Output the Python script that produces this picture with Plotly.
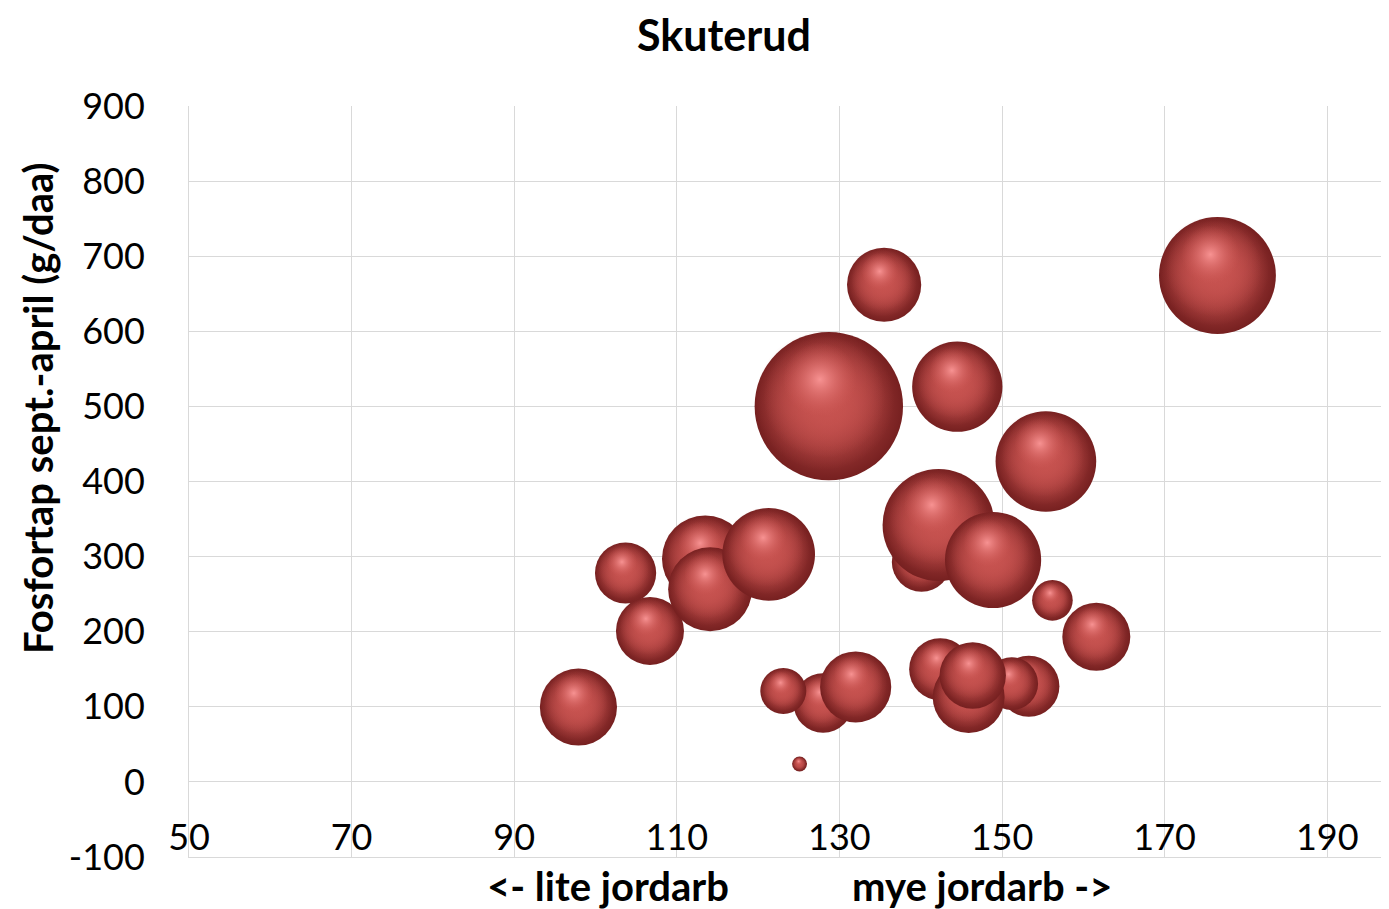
import plotly.graph_objects as go
import numpy as np

# ---- data, listed in drawing order (back to front) ----
x_vals = [97.9, 103.7, 106.7, 113.5, 114.1, 121.3, 128.0, 123.1, 132.0, 125.1,
          128.7, 135.5, 144.5, 155.4, 140.1, 142.2, 148.9, 156.2, 161.6,
          153.3, 151.2, 142.4, 145.9, 146.4, 176.5]
y_vals = [99.7, 278.2, 201.0, 297.2, 256.5, 303.0, 105.0, 121.0, 126.4, 23.8,
          500.3, 662.0, 526.2, 426.6, 292.8, 342.0, 295.5, 241.8, 193.3,
          127.4, 130.8, 150.0, 113.0, 141.7, 674.3]
bubble_sizes = [27, 17, 21, 34, 32, 39, 16, 9.6, 23, 1,
                100, 25, 37, 46, 16, 57, 42, 7.5, 21,
                17, 12.6, 17.5, 23.5, 20, 62]

x_ticks = [50, 70, 90, 110, 130, 150, 170, 190]
y_ticks = [-100, 0, 100, 200, 300, 400, 500, 600, 700, 800, 900]

title_text = "Skuterud"
y_title = "Fosfortap sept.-april (g/daa)"
x_left_label = "<- lite jordarb"
x_right_label = "mye jordarb ->"

# ---- layout geometry (page has an 8px body margin) ----
OFF = 8
W, H = 1389 - OFF, 909 - OFF
ML, MR, MT, MB = 189 - OFF, 0, 106 - OFF, 52
PW, PH = W - ML - MR, H - MT - MB
X_MIN = 50
PX_PER_X = 8.13
X_MAX = X_MIN + PW / PX_PER_X
Y_MIN, Y_MAX = -100, 900
PX_PER_Y = PH / (Y_MAX - Y_MIN)
R_MAX = 74.2  # radius in px of the largest bubble


def px_x(p):  # screen px -> paper fraction (x)
    return (p - OFF - ML) / PW


def px_y(p):  # screen px -> paper fraction (y)
    return (OFF + MT + PH - p) / PH


FONT = "Lato, 'Open Sans', sans-serif"

fig = go.Figure()

smax = max(bubble_sizes)
for xv, yv, sv in zip(x_vals, y_vals, bubble_sizes):
    r = R_MAX * np.sqrt(sv / smax)
    d = 2 * r
    # base sphere: dark rim, red centre (gradient.color = centre colour)
    fig.add_trace(go.Scatter(
        x=[xv], y=[yv], mode="markers", hoverinfo="skip", showlegend=False,
        marker=dict(size=d, sizemode="diameter", color="#762020",
                    gradient=dict(type="radial", color="#c8524f"),
                    line=dict(width=0))))
    # body fill keeps the sphere mostly red, darker towards lower right
    fig.add_trace(go.Scatter(
        x=[xv - 0.06 * r / PX_PER_X], y=[yv + 0.08 * r / PX_PER_Y],
        mode="markers", hoverinfo="skip", showlegend=False,
        marker=dict(size=d * 0.94, sizemode="diameter", color="rgba(196,80,77,0)",
                    gradient=dict(type="radial", color="rgba(196,80,77,1)"),
                    line=dict(width=0))))
    fig.add_trace(go.Scatter(
        x=[xv - 0.06 * r / PX_PER_X], y=[yv + 0.12 * r / PX_PER_Y],
        mode="markers", hoverinfo="skip", showlegend=False,
        marker=dict(size=d * 0.82, sizemode="diameter", color="rgba(198,82,79,0)",
                    gradient=dict(type="radial", color="rgba(200,84,81,1)"),
                    line=dict(width=0))))
    # specular highlight, upper-left of centre
    fig.add_trace(go.Scatter(
        x=[xv - 0.12 * r / PX_PER_X], y=[yv + 0.36 * r / PX_PER_Y],
        mode="markers", hoverinfo="skip", showlegend=False,
        marker=dict(size=d * 0.5, sizemode="diameter", color="rgba(208,90,87,0)",
                    gradient=dict(type="radial", color="rgba(250,150,150,0.95)"),
                    line=dict(width=0))))

GRID = "#d9d9d9"
fig.update_layout(
    width=W, height=H,
    margin=dict(l=ML, r=MR, t=MT, b=MB, autoexpand=False),
    paper_bgcolor="white", plot_bgcolor="white",
    font=dict(family=FONT, color="#000000"),
    xaxis=dict(range=[X_MIN, X_MAX], tickvals=x_ticks, ticktext=[str(v) for v in x_ticks],
               showgrid=True, gridcolor=GRID, gridwidth=1, zeroline=False,
               showline=True, linecolor=GRID, linewidth=1, ticks="",
               ticklabelposition="inside", ticklabeloverflow="allow",
               ticklabelstandoff=4,
               tickfont=dict(family=FONT, size=36, color="#000000")),
    yaxis=dict(range=[Y_MIN, Y_MAX], tickvals=y_ticks, ticktext=[str(v) for v in y_ticks],
               showgrid=True, gridcolor=GRID, gridwidth=1,
               zeroline=True, zerolinecolor=GRID, zerolinewidth=1,
               showline=True, linecolor=GRID, linewidth=1, ticks="",
               ticklabelstandoff=36,
               tickfont=dict(family=FONT, size=36, color="#000000")),
    annotations=[
        dict(text=title_text, xref="paper", yref="paper",
             x=px_x(724), y=px_y(35), xanchor="center", yanchor="middle",
             showarrow=False, font=dict(family=FONT, size=43, weight="bold", color="#000000")),
        dict(text=y_title, textangle=-90, xref="paper", yref="paper",
             x=px_x(38), y=px_y(408), xanchor="center", yanchor="middle",
             showarrow=False, font=dict(family=FONT, size=40, weight="bold", color="#000000")),
        dict(text=x_left_label, xref="paper", yref="paper",
             x=px_x(607.5), y=px_y(886), xanchor="center", yanchor="middle",
             showarrow=False, font=dict(family=FONT, size=40, weight="bold", color="#000000")),
        dict(text=x_right_label, xref="paper", yref="paper",
             x=px_x(981.5), y=px_y(886), xanchor="center", yanchor="middle",
             showarrow=False, font=dict(family=FONT, size=40, weight="bold", color="#000000")),
    ],
)

fig.write_html("out.html")
